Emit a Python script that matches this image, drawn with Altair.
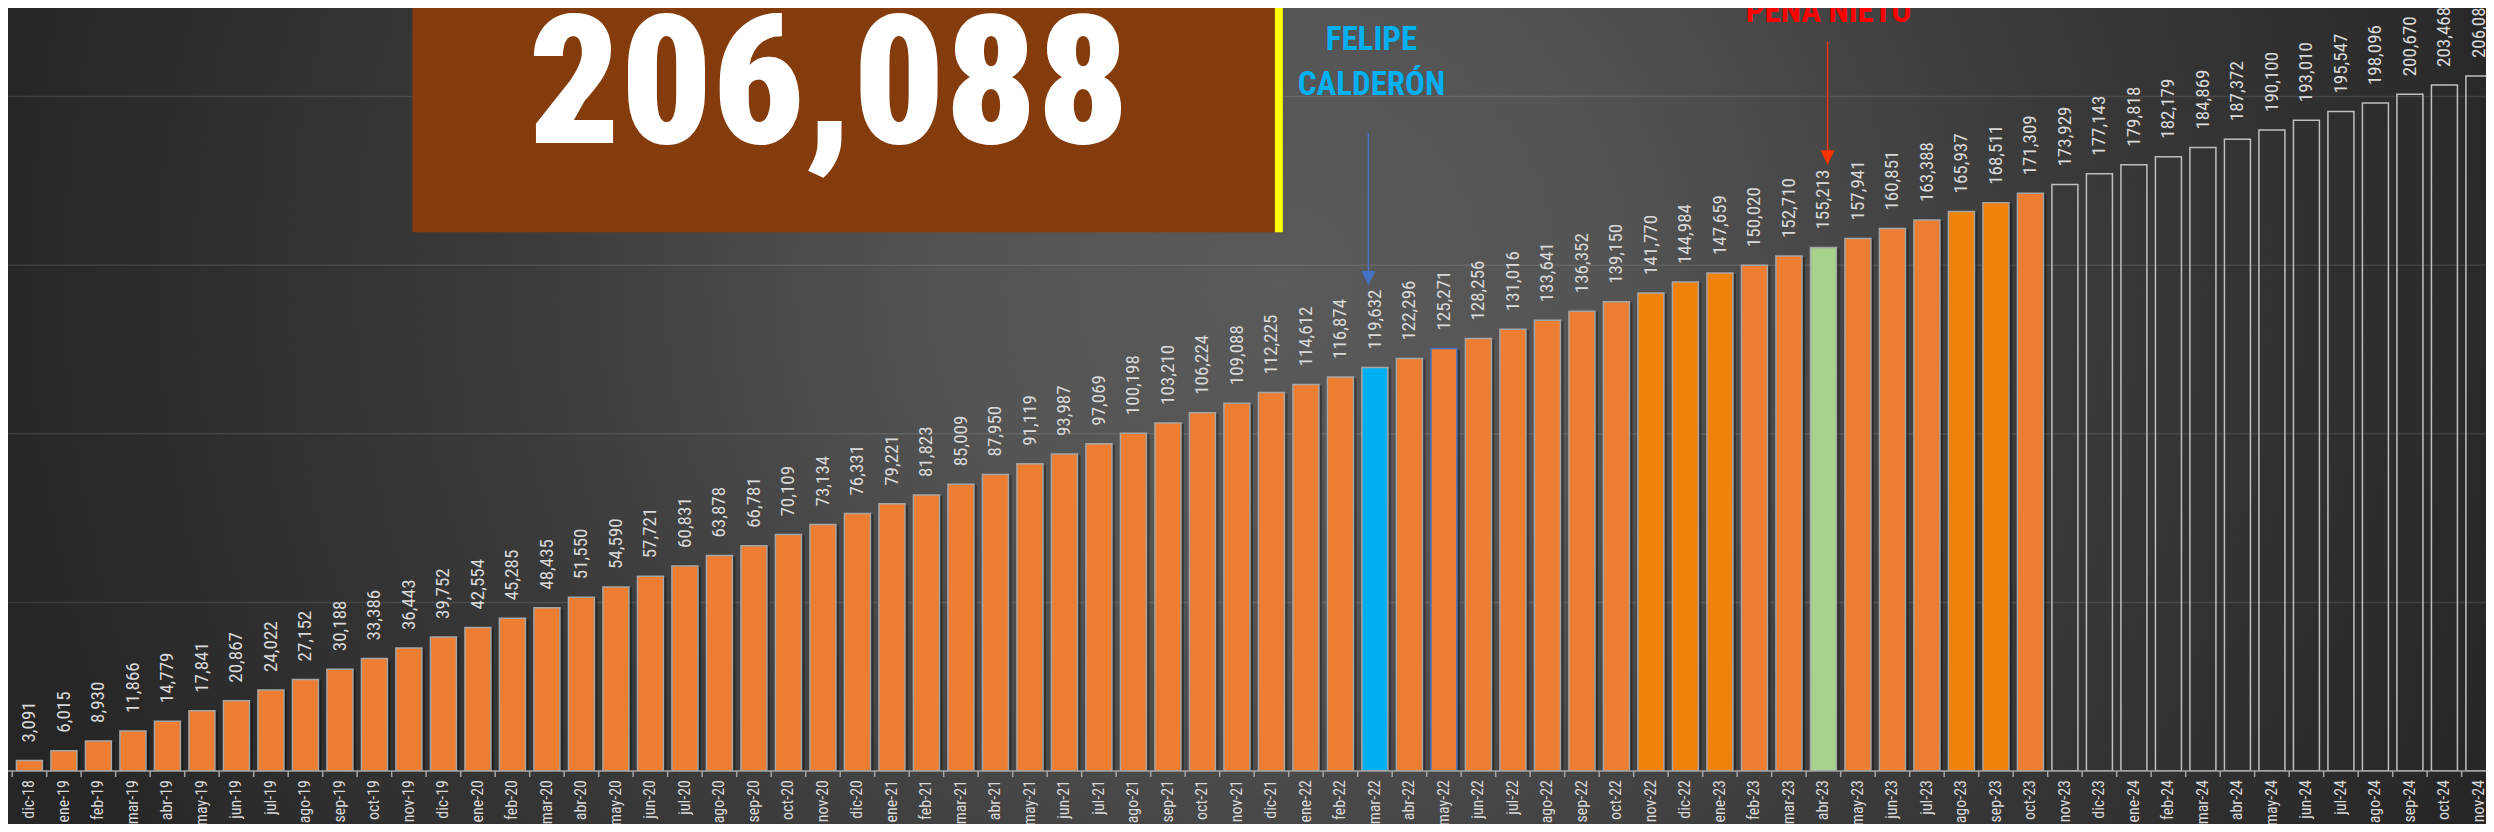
import altair as alt
import pandas as pd

# ---------------- data ----------------
months = [
    "dic-18",
    "ene-19", "feb-19", "mar-19", "abr-19", "may-19", "jun-19", "jul-19", "ago-19", "sep-19", "oct-19", "nov-19", "dic-19",
    "ene-20", "feb-20", "mar-20", "abr-20", "may-20", "jun-20", "jul-20", "ago-20", "sep-20", "oct-20", "nov-20", "dic-20",
    "ene-21", "feb-21", "mar-21", "abr-21", "may-21", "jun-21", "jul-21", "ago-21", "sep-21", "oct-21", "nov-21", "dic-21",
    "ene-22", "feb-22", "mar-22", "abr-22", "may-22", "jun-22", "jul-22", "ago-22", "sep-22", "oct-22", "nov-22", "dic-22",
    "ene-23", "feb-23", "mar-23", "abr-23", "may-23", "jun-23", "jul-23", "ago-23", "sep-23", "oct-23", "nov-23", "dic-23",
    "ene-24", "feb-24", "mar-24", "abr-24", "may-24", "jun-24", "jul-24", "ago-24", "sep-24", "oct-24", "nov-24",
]
values = [
    3091,
    6015, 8930, 11866, 14779, 17841, 20867, 24022, 27152, 30188, 33386, 36443, 39752,
    42554, 45285, 48435, 51550, 54590, 57721, 60831, 63878, 66781, 70109, 73134, 76331,
    79221, 81823, 85009, 87950, 91119, 93987, 97069, 100198, 103210, 106224, 109088, 112225,
    114612, 116874, 119632, 122296, 125271, 128256, 131016, 133641, 136352, 139150, 141770, 144984,
    147659, 150020, 152710, 155213, 157941, 160851, 163388, 165937, 168511, 171309, 173929, 177143,
    179818, 182179, 184869, 187372, 190100, 193010, 195547, 198096, 200670, 203468, 206088,
]
calderon_month = "mar-22"
pena_month = "abr-23"
outlined_months = ["may-22"]
saturated_months = ["nov-22", "dic-22", "ene-23", "ago-23", "sep-23"]
last_actual_month = "oct-23"
grid_values = [50000, 100000, 150000, 200000]
calderon_text = ["FELIPE", "CALDERÓN"]
pena_text = ["PEÑA NIETO"]

# ---------------- layout / style ----------------
W, H, BOTTOM = 2478, 763, 53
YMAX = 226275
X0, X1 = -0.4763, 71.06
FONT = "Roboto Condensed, Roboto, Noto Sans CJK SC, sans-serif"

last_i = months.index(last_actual_month)
kinds = []
for i, m in enumerate(months):
    if i > last_i:
        kinds.append("future")
    elif m == calderon_month:
        kinds.append("calderon")
    elif m == pena_month:
        kinds.append("pena")
    elif m in outlined_months:
        kinds.append("outline")
    elif m in saturated_months:
        kinds.append("sat")
    else:
        kinds.append("normal")

df = pd.DataFrame({"i": list(range(len(months))), "month": months, "value": values, "kind": kinds})

kind_domain = ["normal", "sat", "calderon", "pena", "outline", "future"]
fill_range = ["#ED7D31", "#F0820A", "#00B0F0", "#A9D18E", "#ED7D31", "transparent"]
stroke_range = ["#A6A6A6", "#A6A6A6", "#A6A6A6", "#A6A6A6", "#4472C4", "#BFBFBF"]

xscale = alt.Scale(domain=[X0, X1], nice=False, zero=False)
yscale = alt.Scale(domain=[0, YMAX], nice=False, zero=True)

one = pd.DataFrame({"a": [0]})

bg = alt.Chart(one).mark_rect(
    fill={
        "gradient": "radial",
        "x1": 0.513, "y1": 0.469, "x2": 0.513, "y2": 0.469, "r1": 0, "r2": 0.52,
        "stops": [
            {"offset": 0, "color": "#5a5a5a"},
            {"offset": 0.25, "color": "#545454"},
            {"offset": 0.6, "color": "#3a3a3a"},
            {"offset": 1, "color": "#262626"},
        ],
    }
).encode(x=alt.value(0), x2=alt.value(W), y=alt.value(-900), y2=alt.value(1600))

grid = alt.Chart(pd.DataFrame({"g": grid_values})).mark_rule(
    color="#ffffff", opacity=0.1, strokeWidth=1.5
).encode(y=alt.Y("g:Q", scale=yscale, axis=None), x=alt.value(0), x2=alt.value(W))

box_df = pd.DataFrame({"x": [11.10], "x2": [36.10], "y": [159800], "y2": [YMAX]})
box = alt.Chart(box_df).mark_rect(color="#843C0C").encode(
    x=alt.X("x:Q", scale=xscale, axis=None), x2="x2:Q",
    y=alt.Y("y:Q", scale=yscale, axis=None), y2="y2:Q",
)
ybar_df = pd.DataFrame({"x": [36.10], "x2": [36.33], "y": [159800], "y2": [YMAX]})
ybar = alt.Chart(ybar_df).mark_rect(color="#FFFF00").encode(
    x=alt.X("x:Q", scale=xscale, axis=None), x2="x2:Q",
    y=alt.Y("y:Q", scale=yscale, axis=None), y2="y2:Q",
)

big_df = pd.DataFrame({"x": [23.17], "y": [186240], "t": [f"{values[-1]:,}"]})
big = alt.Chart(big_df).mark_text(
    font=FONT, fontSize=180, fontWeight=900, color="#FFFFFF", align="center", baseline="alphabetic"
).encode(x=alt.X("x:Q", scale=xscale, axis=None), y=alt.Y("y:Q", scale=yscale, axis=None), text="t:N")

base = alt.Chart(df)

shadow = base.transform_filter("datum.kind != 'future'").mark_bar(
    orient="vertical", width=26, color="#000000", opacity=0.35, xOffset=3, yOffset=1, clip=True
).encode(x=alt.X("i:Q", scale=xscale, axis=None), y=alt.Y("value:Q", scale=yscale, axis=None))

bars = base.mark_bar(orient="vertical", width=26, strokeWidth=1.5, clip=True).encode(
    x=alt.X("i:Q", scale=xscale, axis=None),
    y=alt.Y("value:Q", scale=yscale, axis=None),
    fill=alt.Fill("kind:N", scale=alt.Scale(domain=kind_domain, range=fill_range), legend=None),
    stroke=alt.Stroke("kind:N", scale=alt.Scale(domain=kind_domain, range=stroke_range), legend=None),
)

baseline = alt.Chart(one).mark_rule(color="#A6A6A6", strokeWidth=1.5).encode(
    x=alt.value(0), x2=alt.value(W), y=alt.value(H)
)

ticks = alt.Chart(pd.DataFrame({"t": [i - 0.5 for i in range(len(months) + 1)]})).mark_rule(
    color="#A6A6A6", strokeWidth=1.5
).encode(x=alt.X("t:Q", scale=xscale, axis=None), y=alt.value(H), y2=alt.value(H + 6))

month_labels = base.mark_text(
    angle=270, align="right", baseline="middle", font=FONT, fontSize=16, color="#D9D9D9"
).encode(
    x=alt.X("i:Q", scale=xscale, axis=None),
    y=alt.value(H + 9),
    text="month:N",
)

labels = base.mark_text(
    angle=270, align="left", baseline="middle", dx=18, font=FONT, fontSize=19, color="#D9D9D9"
).encode(
    x=alt.X("i:Q", scale=xscale, axis=None),
    y=alt.Y("value:Q", scale=yscale, axis=None),
    text=alt.Text("value:Q", format=","),
)

fel_df = pd.DataFrame({"x": [38.9, 38.9], "y": [213800, 200500], "t": calderon_text})
felipe = alt.Chart(fel_df).mark_text(
    font=FONT, fontSize=33, fontWeight="bold", color="#00B0F0", align="center", baseline="alphabetic"
).encode(x=alt.X("x:Q", scale=xscale, axis=None), y=alt.Y("y:Q", scale=yscale, axis=None), text="t:N")

pena_df = pd.DataFrame({"x": [52.15], "y": [222100], "t": pena_text})
pena = alt.Chart(pena_df).mark_text(
    font=FONT, fontSize=33, fontWeight="bold", color="#FF0000", align="center", baseline="alphabetic"
).encode(x=alt.X("x:Q", scale=xscale, axis=None), y=alt.Y("y:Q", scale=yscale, axis=None), text="t:N")

arr_df = pd.DataFrame({
    "x": [38.81, 52.12],
    "top": [189200, 216300],
    "tip": [144100, 179900],
    "who": ["calderon", "pena"],
})
arr_color = alt.Color("who:N", scale=alt.Scale(domain=["calderon", "pena"], range=["#4472C4", "#FF3300"]), legend=None)
arrow_lines = alt.Chart(arr_df).mark_rule(strokeWidth=1.5).encode(
    x=alt.X("x:Q", scale=xscale, axis=None),
    y=alt.Y("top:Q", scale=yscale, axis=None), y2="tip:Q",
    color=arr_color,
)
arrow_heads = alt.Chart(arr_df).mark_point(
    shape="M -1 -2 L 1 -2 L 0 0 Z", size=200, filled=True, opacity=1
).encode(
    x=alt.X("x:Q", scale=xscale, axis=None),
    y=alt.Y("tip:Q", scale=yscale, axis=None),
    color=arr_color,
)

chart = alt.layer(
    bg, grid, box, ybar, big, shadow, bars, baseline, ticks, month_labels, labels,
    felipe, pena, arrow_lines, arrow_heads
).resolve_scale(color="independent").properties(
    width=W, height=H,
    padding={"left": 0, "top": 0, "right": 0, "bottom": BOTTOM},
    autosize=alt.AutoSizeParams(type="none"),
    background="#2a2a2a",
).configure_view(strokeWidth=0)

chart.save("out.html", embed_options={"renderer": "svg", "actions": False})
